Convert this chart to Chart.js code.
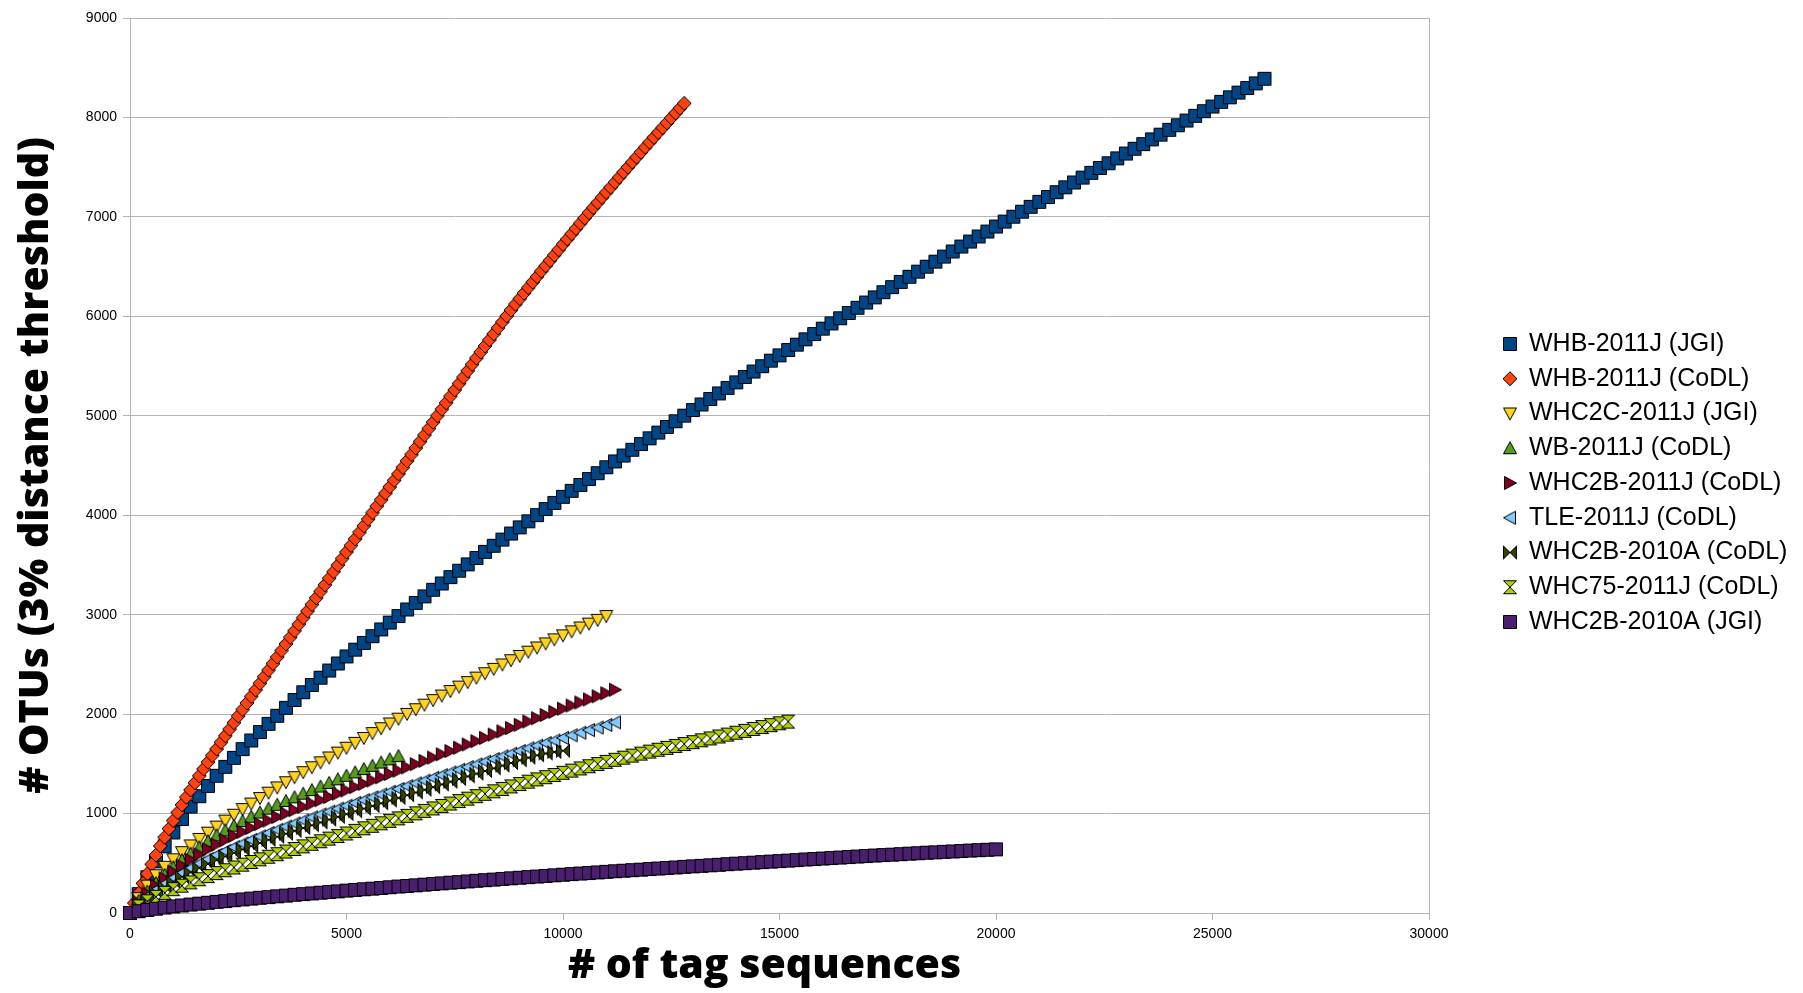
<!DOCTYPE html>
<html>
<head>
<meta charset="utf-8">
<title>OTU rarefaction curves</title>
<script src="https://cdn.jsdelivr.net/npm/chart.js@4/dist/chart.umd.min.js"></script>
<style>
  html, body { margin: 0; padding: 0; background: #fff; }
</style>
</head>
<body>
<canvas id="myChart" width="1803" height="993"></canvas>
<script>
// sampling depths (# of tag sequences)
const seqs200 = [
  0, 200, 400, 600, 800, 1000, 1200, 1400, 1600, 1800,
  2000, 2200, 2400, 2600, 2800, 3000, 3200, 3400, 3600, 3800,
  4000, 4200, 4400, 4600, 4800, 5000, 5200, 5400, 5600, 5800,
  6000, 6200, 6400, 6600, 6800, 7000, 7200, 7400, 7600, 7800,
  8000, 8200, 8400, 8600, 8800, 9000, 9200, 9400, 9600, 9800,
  10000, 10200, 10400, 10600, 10800, 11000, 11200, 11400, 11600, 11800,
  12000, 12200, 12400, 12600, 12800, 13000, 13200, 13400, 13600, 13800,
  14000, 14200, 14400, 14600, 14800, 15000, 15200, 15400, 15600, 15800,
  16000, 16200, 16400, 16600, 16800, 17000, 17200, 17400, 17600, 17800,
  18000, 18200, 18400, 18600, 18800, 19000, 19200, 19400, 19600, 19800,
  20000, 20200, 20400, 20600, 20800, 21000, 21200, 21400, 21600, 21800,
  22000, 22200, 22400, 22600, 22800, 23000, 23200, 23400, 23600, 23800,
  24000, 24200, 24400, 24600, 24800, 25000, 25200, 25400, 25600, 25800,
  26000, 26200
];
const seqs100 = [
  0, 100, 200, 300, 400, 500, 600, 700, 800, 900,
  1000, 1100, 1200, 1300, 1400, 1500, 1600, 1700, 1800, 1900,
  2000, 2100, 2200, 2300, 2400, 2500, 2600, 2700, 2800, 2900,
  3000, 3100, 3200, 3300, 3400, 3500, 3600, 3700, 3800, 3900,
  4000, 4100, 4200, 4300, 4400, 4500, 4600, 4700, 4800, 4900,
  5000, 5100, 5200, 5300, 5400, 5500, 5600, 5700, 5800, 5900,
  6000, 6100, 6200, 6300, 6400, 6500, 6600, 6700, 6800, 6900,
  7000, 7100, 7200, 7300, 7400, 7500, 7600, 7700, 7800, 7900,
  8000, 8100, 8200, 8300, 8400, 8500, 8600, 8700, 8800, 8900,
  9000, 9100, 9200, 9300, 9400, 9500, 9600, 9700, 9800, 9900,
  10000, 10100, 10200, 10300, 10400, 10500, 10600, 10700, 10800, 10900,
  11000, 11100, 11200, 11300, 11400, 11500, 11600, 11700, 11800, 11900,
  12000, 12100, 12200, 12300, 12400, 12500, 12600, 12700, 12800
];

// OTU counts
const whbJgi = [
  0, 190, 360, 520, 670, 810, 945, 1070, 1175, 1278,
  1380, 1470, 1560, 1648, 1735, 1820, 1902, 1983, 2063, 2142,
  2220, 2293, 2366, 2438, 2509, 2580, 2648, 2716, 2784, 2852,
  2920, 2986, 3052, 3118, 3184, 3250, 3314, 3378, 3442, 3506,
  3570, 3632, 3693, 3755, 3816, 3878, 3939, 4001, 4062, 4124,
  4185, 4245, 4304, 4364, 4423, 4483, 4541, 4600, 4658, 4716,
  4774, 4831, 4888, 4945, 5001, 5058, 5114, 5169, 5225, 5280,
  5336, 5390, 5445, 5499, 5554, 5608, 5662, 5715, 5769, 5822,
  5876, 5929, 5981, 6034, 6086, 6139, 6191, 6243, 6294, 6346,
  6398, 6449, 6499, 6550, 6601, 6652, 6702, 6752, 6803, 6853,
  6903, 6953, 7002, 7052, 7101, 7151, 7200, 7249, 7298, 7346,
  7395, 7443, 7492, 7540, 7589, 7637, 7685, 7732, 7780, 7827,
  7875, 7922, 7969, 8016, 8063, 8110, 8157, 8203, 8250, 8296,
  8343, 8389
];
const whbCodl = [
  0, 100, 200, 298, 395, 490, 583, 674, 762, 848,
  930, 1010, 1088, 1164, 1238, 1310, 1380, 1449, 1517, 1584,
  1650, 1716, 1782, 1848, 1914, 1980, 2046, 2112, 2178, 2244,
  2310, 2376, 2442, 2508, 2574, 2640, 2706, 2772, 2838, 2904,
  2970, 3036, 3102, 3168, 3234, 3300, 3366, 3432, 3498, 3564,
  3630, 3696, 3762, 3828, 3894, 3960, 4026, 4091, 4156, 4221,
  4286, 4351, 4416, 4481, 4546, 4611, 4676, 4741, 4806, 4871,
  4936, 5001, 5066, 5131, 5196, 5260, 5324, 5388, 5452, 5516,
  5580, 5641, 5702, 5763, 5824, 5884, 5944, 6004, 6063, 6121,
  6178, 6234, 6289, 6344, 6399, 6454, 6508, 6562, 6616, 6670,
  6724, 6777, 6830, 6883, 6936, 6989, 7042, 7093, 7144, 7195,
  7246, 7297, 7348, 7399, 7450, 7500, 7550, 7600, 7650, 7700,
  7750, 7799, 7848, 7897, 7946, 7995, 8044, 8093, 8142
];
const whc2cJgi = [
  0, 150, 275, 380, 465, 540, 612, 680, 745, 808,
  869, 929, 988, 1045, 1101, 1156, 1210, 1263, 1315, 1366,
  1416, 1466, 1515, 1564, 1613, 1662, 1711, 1760, 1809, 1858,
  1906, 1954, 2002, 2049, 2095, 2141, 2187, 2232, 2277, 2322,
  2367, 2411, 2455, 2499, 2542, 2585, 2628, 2670, 2711, 2752,
  2792, 2832, 2871, 2910, 2948, 2986
];
const wbCodl = [
  0, 120, 215, 300, 382, 460, 530, 596, 660, 721,
  780, 830, 878, 924, 968, 1010, 1049, 1088, 1126, 1163,
  1200, 1236, 1272, 1308, 1344, 1380, 1414, 1447, 1480, 1513,
  1545, 1578
];
const whc2b11Codl = [
  0, 105, 195, 275, 348, 415, 477, 535, 589, 640,
  688, 733, 776, 817, 856, 894, 930, 965, 1000, 1034,
  1068, 1101, 1134, 1167, 1200, 1233, 1266, 1299, 1332, 1365,
  1398, 1431, 1464, 1497, 1530, 1563, 1596, 1629, 1662, 1695,
  1728, 1761, 1794, 1827, 1860, 1893, 1926, 1959, 1991, 2023,
  2055, 2086, 2117, 2148, 2179, 2210, 2245
];
const tleCodl = [
  0, 90, 165, 232, 293, 350, 402, 451, 497, 541,
  583, 623, 662, 699, 735, 770, 804, 837, 869, 900,
  931, 961, 991, 1020, 1049, 1078, 1107, 1135, 1163, 1191,
  1219, 1247, 1275, 1303, 1331, 1359, 1386, 1413, 1440, 1467,
  1494, 1521, 1548, 1575, 1602, 1629, 1656, 1683, 1709, 1735,
  1761, 1787, 1813, 1839, 1865, 1891, 1917
];
const whc2b10Codl = [
  0, 82, 150, 210, 265, 316, 364, 409, 452, 493,
  532, 569, 605, 640, 673, 705, 736, 767, 797, 826,
  855, 883, 911, 939, 967, 995, 1023, 1050, 1077, 1104,
  1131, 1158, 1185, 1212, 1239, 1266, 1293, 1320, 1347, 1374,
  1401, 1428, 1455, 1482, 1509, 1536, 1562, 1586, 1604, 1619,
  1632
];
const whc75Codl = [
  0, 66, 118, 163, 203, 240, 275, 308, 340, 371,
  401, 430, 458, 486, 513, 540, 566, 592, 618, 644,
  670, 696, 722, 748, 774, 800, 826, 852, 877, 902,
  927, 952, 977, 1002, 1027, 1052, 1077, 1101, 1126, 1150,
  1175, 1199, 1224, 1248, 1273, 1297, 1321, 1344, 1366, 1388,
  1410, 1432, 1454, 1476, 1498, 1520, 1541, 1562, 1583, 1603,
  1623, 1642, 1661, 1680, 1699, 1718, 1737, 1756, 1775, 1794,
  1813, 1832, 1851, 1870, 1889, 1908, 1925
];
const whc2b10Jgi = [
  0, 18, 31, 43, 55, 66, 76, 85, 94, 103,
  112, 120, 129, 137, 145, 153, 160, 168, 175, 183,
  190, 197, 204, 211, 218, 225, 232, 239, 245, 252,
  259, 266, 272, 279, 285, 292, 298, 305, 311, 318,
  324, 330, 336, 343, 349, 355, 361, 367, 373, 379,
  385, 391, 397, 402, 408, 414, 420, 425, 431, 436,
  442, 447, 453, 458, 464, 469, 474, 480, 485, 491,
  496, 501, 506, 512, 517, 522, 527, 532, 538, 543,
  548, 553, 558, 563, 568, 573, 578, 583, 587, 592,
  597, 601, 606, 610, 615, 619, 623, 628, 632, 636,
  640
];

const seriesNames = [
  'WHB-2011J (JGI)', 'WHB-2011J (CoDL)', 'WHC2C-2011J (JGI)', 'WB-2011J (CoDL)',
  'WHC2B-2011J (CoDL)', 'TLE-2011J (CoDL)', 'WHC2B-2010A (CoDL)', 'WHC75-2011J (CoDL)',
  'WHC2B-2010A (JGI)'
];
const seriesX = [seqs200, seqs100, seqs200, seqs200, seqs200, seqs200, seqs200, seqs200, seqs200];
const seriesY = [whbJgi, whbCodl, whc2cJgi, wbCodl, whc2b11Codl, tleCodl, whc2b10Codl, whc75Codl, whc2b10Jgi];
const xTicks = [0, 5000, 10000, 15000, 20000, 25000, 30000];
const yTicks = [0, 1000, 2000, 3000, 4000, 5000, 6000, 7000, 8000, 9000];

const colors = ['#004586', '#ff420e', '#ffd320', '#579d1c', '#7e0021', '#83caff', '#314004', '#aecf00', '#4b1f6f'];
const shapes = ['square', 'diamond', 'down', 'up', 'right', 'left', 'bowtie', 'hourglass', 'square'];
const gridGrey = '#b3b3b3';

// little symbol bitmaps, like the office chart ones
function makeMarker(shape, fill) {
  const c = document.createElement('canvas');
  c.width = 16; c.height = 16;
  const g = c.getContext('2d');
  g.beginPath();
  if (shape === 'square') {
    g.rect(1.5, 1.5, 13, 13);
  } else if (shape === 'diamond') {
    g.moveTo(8, 1); g.lineTo(15, 8); g.lineTo(8, 15); g.lineTo(1, 8); g.closePath();
  } else if (shape === 'down') {
    g.moveTo(1.5, 2.5); g.lineTo(14.5, 2.5); g.lineTo(8, 14.5); g.closePath();
  } else if (shape === 'up') {
    g.moveTo(8, 1.5); g.lineTo(14.5, 13.5); g.lineTo(1.5, 13.5); g.closePath();
  } else if (shape === 'right') {
    g.moveTo(2.5, 1.5); g.lineTo(14.5, 8); g.lineTo(2.5, 14.5); g.closePath();
  } else if (shape === 'left') {
    g.moveTo(13.5, 1.5); g.lineTo(1.5, 8); g.lineTo(13.5, 14.5); g.closePath();
  } else if (shape === 'bowtie') {
    g.moveTo(1.5, 1.5); g.lineTo(8, 8); g.lineTo(1.5, 14.5); g.closePath();
    g.moveTo(14.5, 1.5); g.lineTo(8, 8); g.lineTo(14.5, 14.5); g.closePath();
  } else if (shape === 'hourglass') {
    g.moveTo(1.5, 1.5); g.lineTo(14.5, 1.5); g.lineTo(8, 8); g.closePath();
    g.moveTo(1.5, 14.5); g.lineTo(14.5, 14.5); g.lineTo(8, 8); g.closePath();
  }
  g.fillStyle = fill;
  g.fill();
  g.strokeStyle = '#000';
  g.lineWidth = 1;
  g.stroke();
  return c;
}

const datasets = seriesY.map((vals, i) => ({
  label: seriesNames[i],
  data: vals.map((v, j) => ({ x: seriesX[i][j], y: v })),
  pointStyle: makeMarker(shapes[i], colors[i]),
  pointRadius: 7,
  pointHoverRadius: 7,
  backgroundColor: colors[i],
  borderColor: '#000',
  showLine: false,
  clip: false,
  order: seriesY.length - i   // later series on top
}));

// keep the legend off the plot, the way the original sits
const legendSpot = {
  id: 'legendSpot',
  beforeLayout(chart) {
    const lg = chart.legend;
    if (lg && !lg._wideFit) {
      const fit = lg.fit.bind(lg);
      lg.fit = function () { fit(); this.width = 374; };
      lg._wideFit = true;
    }
  },
  afterLayout(chart) {
    const lg = chart.legend;
    if (lg) {
      lg.left = 1493.75; lg.right = lg.left + lg.width;
      lg.top = 321.75; lg.bottom = 993;
    }
    // the x title sits a bit left of the plot centre in the original
    const sx = chart.scales.x;
    if (sx && !sx._nudged) {
      const drawTitle = sx.drawTitle.bind(sx);
      sx.drawTitle = function () {
        this.ctx.save();
        this.ctx.translate(-15, 0);
        drawTitle();
        this.ctx.restore();
      };
      sx._nudged = true;
    }
  }
};

Chart.defaults.font.family = '"Liberation Sans", Arial, sans-serif';
Chart.defaults.color = '#000';

const titleFont = { family: '"Open Sans", "DejaVu Sans", sans-serif', size: 41, weight: 800 };

new Chart(document.getElementById('myChart'), {
  type: 'scatter',
  data: { datasets },
  plugins: [legendSpot],
  options: {
    responsive: false,
    animation: false,
    events: [],
    layout: { padding: { top: 18, left: 0, right: 0, bottom: 0 } },
    plugins: {
      legend: {
        position: 'right',
        align: 'start',
        labels: {
          usePointStyle: true,
          pointStyleWidth: 13,
          padding: 9.75,
          color: '#000',
          font: { size: 25 },
          sort: (a, b) => a.datasetIndex - b.datasetIndex
        }
      },
      tooltip: { enabled: false }
    },
    scales: {
      x: {
        type: 'linear',
        min: 0,
        max: 30000,
        afterBuildTicks: s => { s.ticks = xTicks.map(v => ({ value: v })); },
        ticks: { font: { size: 14 }, padding: 6, maxRotation: 0, callback: v => String(v) },
        grid: {
          color: ctx => (ctx.tick && ctx.tick.value === 30000 ? gridGrey : 'rgba(0,0,0,0)'),
          tickColor: gridGrey,
          tickLength: 7
        },
        border: { color: gridGrey },
        title: { display: true, text: '# of tag sequences', font: titleFont, color: '#000', padding: { top: 0, bottom: 2 } },
        afterFit: s => { s.height = 80; }
      },
      y: {
        type: 'linear',
        min: 0,
        max: 9000,
        afterBuildTicks: s => { s.ticks = yTicks.map(v => ({ value: v })); },
        ticks: { font: { size: 14 }, padding: 6, callback: v => String(v) },
        grid: { color: gridGrey, tickColor: gridGrey, tickLength: 7 },
        border: { color: gridGrey },
        title: { display: true, text: '# OTUs (3% distance threshold)', font: titleFont, color: '#000', padding: { top: 12, bottom: 0 } },
        afterFit: s => { s.width = 130; }
      }
    }
  }
});
</script>
</body>
</html>
